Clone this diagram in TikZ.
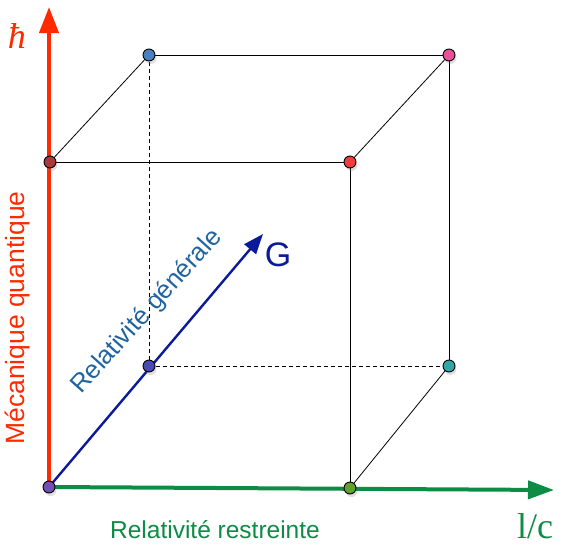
\documentclass[tikz,border=0pt]{standalone}
\usepackage{fontspec}
\setmainfont{Liberation Serif}
\setsansfont{Liberation Sans}
\usetikzlibrary{arrows.meta,shadows,backgrounds}
\definecolor{qred}{HTML}{FF2A00}
\definecolor{rgreen}{HTML}{0C8C44}
\definecolor{gblue}{HTML}{0A1A9A}
\definecolor{tblue}{HTML}{1F63A0}
\definecolor{cD}{HTML}{4A80C0}
\definecolor{cE}{HTML}{E8509A}
\definecolor{cB}{HTML}{A83A3A}
\definecolor{cC}{HTML}{F03C3C}
\definecolor{cF}{HTML}{4A4AB0}
\definecolor{cH}{HTML}{30A8A8}
\definecolor{cO}{HTML}{7050B0}
\definecolor{cA}{HTML}{62A030}
\tikzset{
  edge/.style={draw=black,line width=0.8pt},
  hidden/.style={draw=black,line width=0.8pt,dash pattern=on 4pt off 3pt},
  dot/.style={circle,draw=black,line width=0.9pt,minimum size=12pt,inner sep=0pt,
    drop shadow={shadow xshift=1.5pt,shadow yshift=-3pt,opacity=0.25}},
  lbl/.style={font=\sffamily,inner sep=0pt},
}
\begin{document}
\begin{tikzpicture}[x=1pt,y=-1pt]
\useasboundingbox (0,0) rectangle (562,549);
% dots
\node[dot,fill=cO] (O) at (49,487) {};
\node[dot,fill=cA] (A) at (350,488) {};
\node[dot,fill=cB] (B) at (50,162) {};
\node[dot,fill=cC] (C) at (350,162) {};
\node[dot,fill=cD] (D) at (149,55) {};
\node[dot,fill=cE] (E) at (449,55) {};
\node[dot,fill=cF] (F) at (149,366) {};
\node[dot,fill=cH] (H) at (449,366) {};
\coordinate (Ztip) at (49,7);
\coordinate (Xtip) at (554,490);
\coordinate (Ytip) at (263,234);
\begin{scope}[on background layer]
% cube edges
\draw[edge] (B.center) -- (C.center);
\draw[edge] (B.center) -- (D.center);
\draw[edge] (D.center) -- (E.center);
\draw[edge] (C.center) -- (E.center);
\draw[edge] (C.center) -- (A.center);
\draw[edge] (E.center) -- (H.center);
\draw[edge] (A.center) -- (H.center);
\draw[hidden] (D.center) -- (F.center);
\draw[hidden] (F.center) -- (H.center);
% axes
\draw[qred,line width=4pt,-{Triangle[length=26pt,width=19pt]}] (O.center) -- (Ztip);
\draw[rgreen,line width=4pt,-{Triangle[length=26pt,width=18pt]}] (O.center) -- (Xtip);
\draw[gblue,line width=2.4pt,-{Triangle[length=20pt,width=15pt]}] (O.center) -- (Ytip);
\end{scope}
% labels
\node[text=qred,font=\itshape\fontsize{36}{36}\selectfont,inner sep=0pt] (hbar) at (17,36) {ħ};
\node[text=rgreen,font=\fontsize{36}{36}\selectfont,inner sep=0pt] (lc) at (535,526) {l/c};
\node[lbl,text=gblue,font=\sffamily\fontsize{34}{34}\selectfont] (G) at (278,255) {G};
\node[lbl,text=qred,font=\sffamily\fontsize{26.5}{26.5}\selectfont,rotate=90] (mq) at (17,318) {Mécanique quantique};
\node[lbl,text=rgreen,font=\sffamily\fontsize{24.5}{24.5}\selectfont] (rr) at (215,530) {Relativité restreinte};
\node[lbl,text=tblue,font=\sffamily\fontsize{25.5}{25.5}\selectfont,rotate=48] (rg) at (147,312) {Relativité générale};
\end{tikzpicture}
\end{document}
